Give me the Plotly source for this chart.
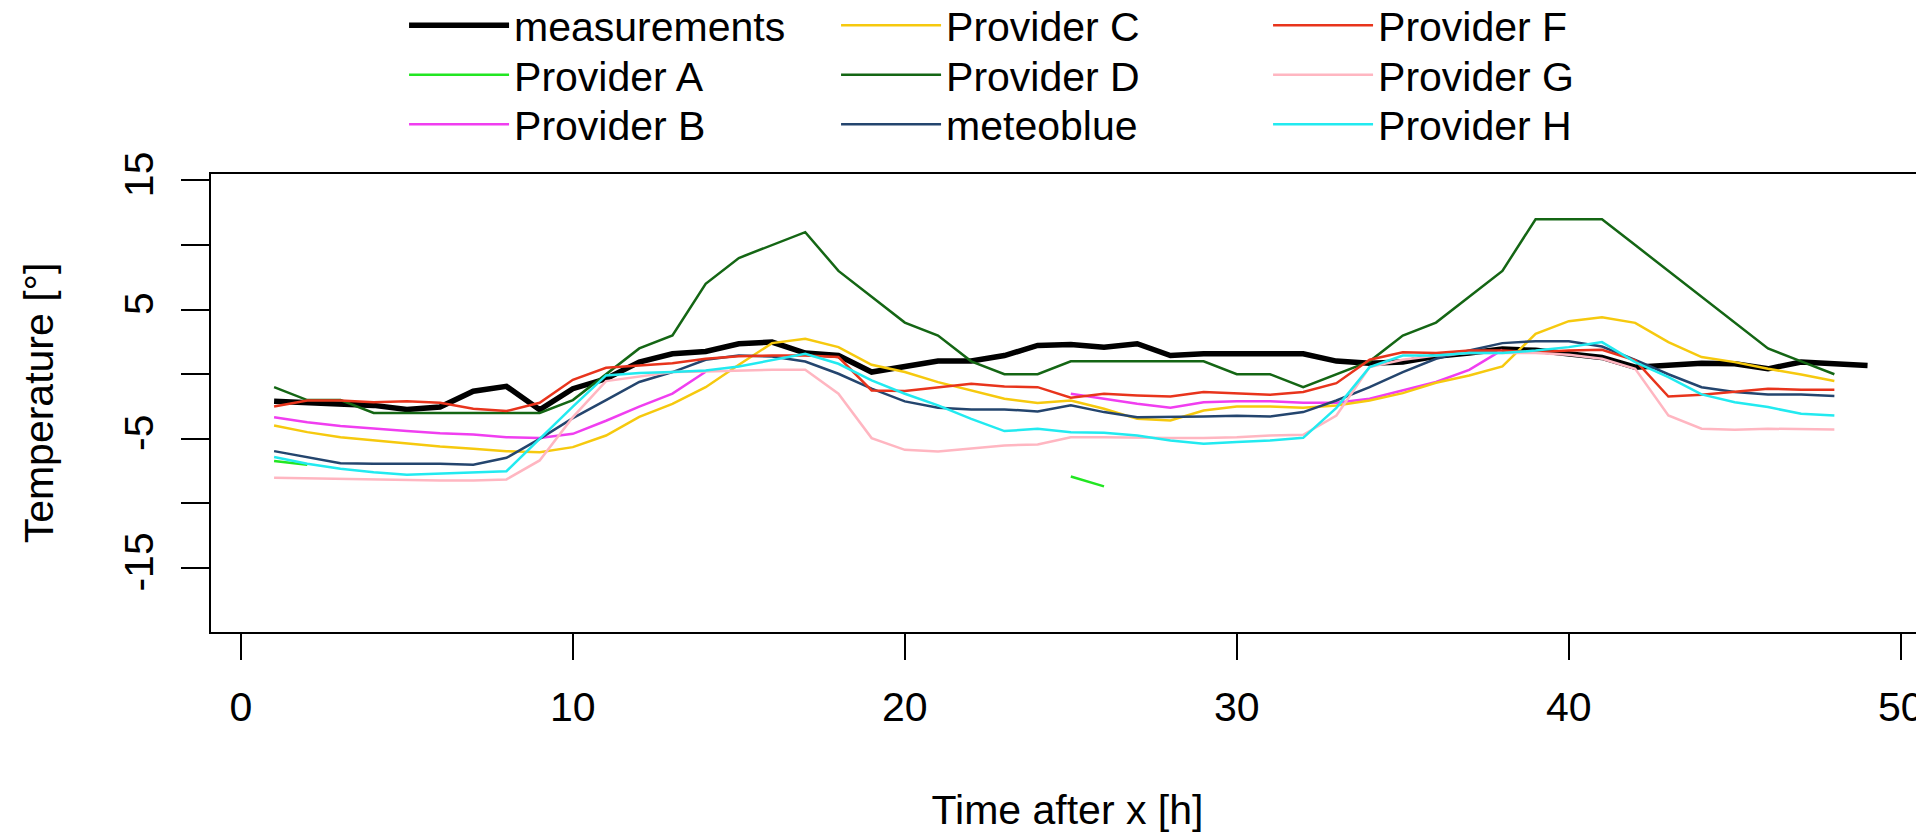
import plotly.graph_objects as go

hours = list(range(1, 50))

measurements = [-2.08, -2.16, -2.29, -2.41, -2.72, -2.54, -1.31, -0.94, -2.75, -1.12,
                -0.35, 0.95, 1.58, 1.76, 2.36, 2.49, 1.64, 1.45, 0.17, 0.6,
                1.02, 1.02, 1.45, 2.23, 2.3, 2.1, 2.36, 1.45, 1.58, 1.58,
                1.58, 1.58, 1.02, 0.86, 0.94, 1.4, 1.64, 1.95, 1.85, 1.6,
                1.3, 0.55, 0.73, 0.86, 0.81, 0.42, 0.94, 0.81, 0.68]

N = None
provider_a = [-6.72, -7.0] + [N] * 22 + [-7.91, -8.68] + [N] * 22

provider_b = [-3.32, -3.71, -4.01, -4.22, -4.4, -4.56, -4.66, -4.87, -4.94, -4.61,
              -3.6, -2.5, -1.5, 0.2] + [N] * 10 + \
             [-1.51, -1.9, -2.29, -2.6, -2.16, -2.08, -2.08, -2.21, -2.21, -1.9,
              -1.25, -0.6, 0.34, 1.89] + [N] * 10

provider_c = [-3.96, -4.48, -4.87, -5.12, -5.38, -5.59, -5.77, -5.95, -6.03, -5.64,
              -4.74, -3.3, -2.29, -1.0, 0.73, 2.41, 2.75, 2.1, 0.73, 0.17,
              -0.61, -1.25, -1.9, -2.23, -2.03, -2.67, -3.45, -3.58, -2.8, -2.49,
              -2.49, -2.6, -2.41, -2.03, -1.46, -0.66, -0.1, 0.6, 3.13, 4.11,
              4.42, 3.98, 2.49, 1.33, 0.94, 0.42, -0.02, -0.53]

provider_d = [-1.0, -2.0, -2.0, -3.0, -3.0, -3.0, -3.0, -3.0, -3.0, -2.0,
              0.0, 2.0, 3.0, 7.0, 9.0, 10.0, 11.0, 8.0, 6.0, 4.0,
              3.0, 1.0, 0.0, 0.0, 1.0, 1.0, 1.0, 1.0, 1.0, 0.0,
              0.0, -1.0, 0.0, 1.0, 3.0, 4.0, 6.0, 8.0, 12.0, 12.0,
              12.0, 10.0, 8.0, 6.0, 4.0, 2.0, 1.0, 0.0]

meteoblue = [-5.95, -6.41, -6.88, -6.93, -6.93, -6.93, -7.0, -6.47, -5.0, -3.4,
             -2.0, -0.6, 0.17, 1.12, 1.45, 1.38, 0.99, 0.04, -1.12, -2.1,
             -2.6, -2.72, -2.72, -2.88, -2.41, -2.93, -3.32, -3.32, -3.27, -3.22,
             -3.27, -2.93, -2.03, -1.0, 0.17, 1.2, 1.84, 2.41, 2.56, 2.56,
             2.15, 1.12, 0.0, -1.0, -1.38, -1.56, -1.56, -1.69]

provider_f = [-2.49, -2.03, -2.03, -2.16, -2.08, -2.21, -2.67, -2.85, -2.21, -0.43,
              0.5, 0.7, 0.86, 1.2, 1.4, 1.45, 1.45, 1.33, -1.25, -1.3,
              -1.0, -0.74, -0.94, -1.0, -1.82, -1.51, -1.64, -1.72, -1.38, -1.51,
              -1.59, -1.38, -0.69, 1.12, 1.71, 1.64, 1.84, 1.84, 1.71, 1.84,
              1.9, 1.07, -1.72, -1.59, -1.38, -1.12, -1.2, -1.2]

provider_g = [-8.01, -8.05, -8.09, -8.14, -8.22, -8.22, -8.22, -8.14, -6.67, -3.32,
              -0.53, -0.17, 0.17, 0.22, 0.3, 0.35, 0.35, -1.51, -4.94, -5.85,
              -5.98, -5.77, -5.51, -5.43, -4.87, -4.87, -4.92, -4.94, -4.94, -4.87,
              -4.74, -4.69, -3.19, 0.55, 1.12, 1.45, 1.64, 1.64, 1.64, 1.51,
              1.2, 0.42, -3.19, -4.22, -4.3, -4.22, -4.22, -4.27]

provider_h = [-6.41, -6.93, -7.32, -7.58, -7.78, -7.7, -7.58, -7.5, -5.0, -2.5,
              -0.09, 0.09, 0.17, 0.3, 0.6, 1.07, 1.58, 0.81, -0.48, -1.51,
              -2.41, -3.45, -4.4, -4.22, -4.48, -4.53, -4.74, -5.12, -5.38, -5.25,
              -5.12, -4.92, -2.6, 0.55, 1.45, 1.45, 1.64, 1.64, 1.84, 2.1,
              2.49, 0.94, -0.22, -1.56, -2.16, -2.54, -3.06, -3.19]

# name, values, colour, width, legend row, position in row
series = [
    ("measurements", measurements, "#000000", 5.5, "legend", 1),
    ("Provider A", provider_a, "#22e622", 2.5, "legend2", 1),
    ("Provider B", provider_b, "#f03ef0", 2.5, "legend3", 1),
    ("Provider C", provider_c, "#f6c90e", 2.5, "legend", 2),
    ("Provider D", provider_d, "#146614", 2.5, "legend2", 2),
    ("meteoblue", meteoblue, "#24456e", 2.5, "legend3", 2),
    ("Provider F", provider_f, "#e8341c", 2.5, "legend", 3),
    ("Provider G", provider_g, "#ffb6c1", 2.5, "legend2", 3),
    ("Provider H", provider_h, "#22eaf0", 2.5, "legend3", 3),
]

FONT = "Liberation Sans, Arial, Helvetica, sans-serif"
FS = 41

fig = go.Figure()
for name, vals, col, w, leg, rank in series:
    fig.add_trace(go.Scatter(
        x=hours[:len(vals)], y=vals, mode="lines", name=name,
        line=dict(color=col, width=w), connectgaps=False,
        legend=leg, legendrank=rank,
    ))


def legend_row(y):
    return dict(
        orientation="h", xref="paper", yref="paper",
        x=0.1127, xanchor="left", y=y, yanchor="top",
        entrywidth=317, itemwidth=100, font=dict(size=FS),
        bgcolor="rgba(0,0,0,0)", tracegroupgap=0,
    )


# the page body has an 8px margin, so the figure is 8px smaller than the window
fig.update_layout(
    width=1916, height=825,
    margin=dict(l=203, r=0, t=166, b=201, autoexpand=False),
    paper_bgcolor="white", plot_bgcolor="white",
    font=dict(family=FONT, size=FS, color="black"),
    showlegend=True,
    legend=legend_row(1.3974),
    legend2=legend_row(1.2893),
    legend3=legend_row(1.1812),
    xaxis=dict(
        range=[-0.90, 50.70], tickvals=[0, 10, 20, 30, 40, 50],
        ticks="outside", ticklen=26, tickwidth=2, tickcolor="black",
        showline=True, linecolor="black", linewidth=2, mirror=True,
        showgrid=False, zeroline=False, ticklabelstandoff=12,
        title=dict(text="Time after x [h]", font=dict(size=FS), standoff=70),
    ),
    yaxis=dict(
        range=[-19.95, 15.5], tickvals=[-15, -10, -5, 0, 5, 10, 15],
        ticktext=["-15", "", "-5", "", "5", "", "15"], tickangle=-90,
        ticks="outside", ticklen=28, tickwidth=2, tickcolor="black",
        showline=True, linecolor="black", linewidth=2, mirror=False,
        showgrid=False, zeroline=False, ticklabelstandoff=12,
        title=dict(text="Temperature [°]", font=dict(size=FS), standoff=49),
    ),
)

fig.write_html("out.html")
